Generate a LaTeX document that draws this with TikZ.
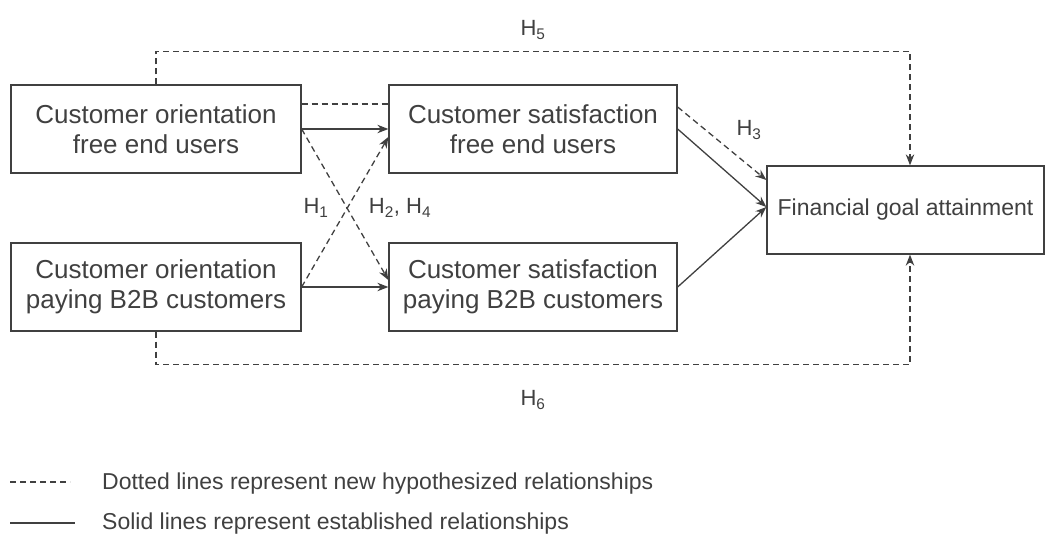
\documentclass[tikz,border=0pt]{standalone}
\usepackage{fontspec}
\setmainfont{Liberation Sans}
\usetikzlibrary{arrows.meta}
\definecolor{ink}{HTML}{404040}
\tikzset{
  x=1pt,y=-1pt,
  box/.style={draw=ink,line width=1.3pt,text=ink,align=center,inner sep=0pt,
    minimum width=290pt,minimum height=88pt,font=\fontsize{26}{30}\selectfont},
  lbl/.style={text=ink,inner sep=0pt,font=\fontsize{22}{26}\selectfont},
  solidln/.style={draw=ink,line width=1.3pt},
  dashln/.style={draw=ink,line width=1.3pt,dash pattern=on 6pt off 4pt},
  arr/.style={-{Stealth[length=11pt,width=8.5pt]}},
}
\begin{document}
\begin{tikzpicture}
\useasboundingbox (0,0) rectangle (1048,533);
% boxes
\node[box] (cof) at (156,129) {Customer orientation\\free end users};
\node[box,minimum width=288pt] (csf) at (533,129) {Customer satisfaction\\free end users};
\node[box] (cop) at (156,287) {Customer orientation\\paying B2B customers};
\node[box,minimum width=288pt] (csp) at (533,287) {Customer satisfaction\\paying B2B customers};
\node[box,minimum width=277pt,font=\fontsize{23}{27}\selectfont] (fga) at (905.5,210) {Financial goal attainment};
% labels
\node[lbl] (h5) at (533,30) {H\textsubscript{5}};
\node[lbl] (h6) at (533,400) {H\textsubscript{6}};
\node[lbl] (h3) at (749,130) {H\textsubscript{3}};
\node[lbl] (h1) at (316,208) {H\textsubscript{1}};
\node[lbl] (h24) at (400,208) {H\textsubscript{2}, H\textsubscript{4}};
% connectors between first columns
\draw[dashln] ([yshift=25pt]cof.east) -- ([yshift=25pt]csf.west);
\draw[solidln,arr] (cof.east) -- (csf.west);
\draw[solidln,arr] (cop.east) -- (csp.west);
\draw[dashln,arr] (cof.east) -- ([yshift=7pt]csp.west);
\draw[dashln,arr] (cop.east) -- ([yshift=-8pt]csf.west);
% to financial goal
\draw[dashln,arr] ([yshift=22pt]csf.east) -- ([yshift=30pt]fga.west);
\draw[solidln,arr] (csf.east) -- ([yshift=3pt]fga.west);
\draw[solidln,arr] (csp.east) -- ([yshift=3pt]fga.west);
% outer loops
\draw[dashln,arr] (cof.north) -- ([yshift=33pt]cof.north) -| ([xshift=4.5pt]fga.north);
\draw[dashln,arr] (cop.south) -- ([yshift=-33pt]cop.south) -| ([xshift=4.5pt]fga.south);
% legend
\coordinate (da) at (10,482);
\coordinate (db) at (70,482);
\coordinate (sa) at (10,523);
\coordinate (sb) at (75,523);
\draw[dashln] (da) -- (db);
\draw[solidln] (sa) -- (sb);
\node[lbl,anchor=base west,font=\fontsize{23}{27}\selectfont] (t1) at (102,489) {Dotted lines represent new hypothesized relationships};
\node[lbl,anchor=base west,font=\fontsize{23}{27}\selectfont] (t2) at (102,529) {Solid lines represent established relationships};
\end{tikzpicture}
\end{document}
